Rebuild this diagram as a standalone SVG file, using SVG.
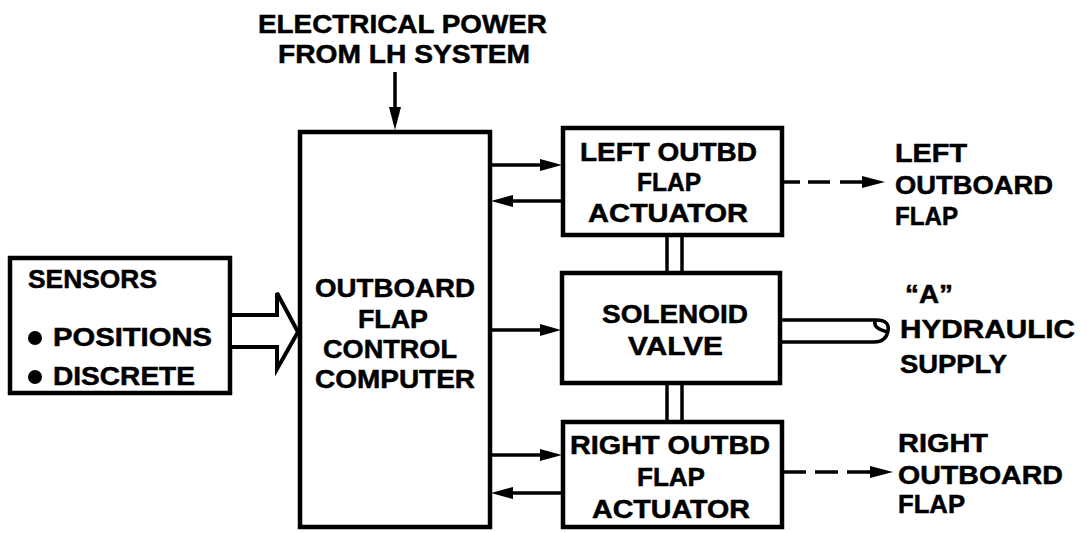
<svg xmlns="http://www.w3.org/2000/svg" width="1087" height="533" viewBox="0 0 1087 533">
<style>
  text { font-family: "Liberation Sans", Arial, sans-serif; font-weight: bold; font-size: 25px; fill: #000; stroke: #000; stroke-width: 0.5; }
  .box { fill: #fff; stroke: #000; stroke-width: 4.5; }
  .ln { stroke: #000; stroke-width: 3.5; fill: none; }
  .head { fill: #000; stroke: none; }
</style>
<rect x="0" y="0" width="1087" height="533" fill="#fff"/>

<g id="power-label">
  <text x="258" y="33" textLength="289" lengthAdjust="spacingAndGlyphs">ELECTRICAL POWER</text>
  <text x="278" y="63" textLength="252" lengthAdjust="spacingAndGlyphs">FROM LH SYSTEM</text>
</g>

<g id="sensors">
  <rect class="box" x="10" y="258" width="220" height="135"/>
  <text x="28" y="288" textLength="129" lengthAdjust="spacingAndGlyphs">SENSORS</text>
  <circle cx="35" cy="338" r="7" fill="#000"/>
  <text x="53" y="346" textLength="159" lengthAdjust="spacingAndGlyphs">POSITIONS</text>
  <circle cx="35" cy="377" r="7" fill="#000"/>
  <text x="53" y="385" textLength="142" lengthAdjust="spacingAndGlyphs">DISCRETE</text>
</g>

<g id="computer">
  <rect class="box" x="300" y="132" width="190" height="395"/>
  <text x="315" y="297" textLength="160" lengthAdjust="spacingAndGlyphs">OUTBOARD</text>
  <text x="358" y="328" textLength="70" lengthAdjust="spacingAndGlyphs">FLAP</text>
  <text x="323" y="358" textLength="134" lengthAdjust="spacingAndGlyphs">CONTROL</text>
  <text x="315" y="388" textLength="160" lengthAdjust="spacingAndGlyphs">COMPUTER</text>
</g>

<g id="left-actuator">
  <rect class="box" x="563" y="128" width="219" height="107"/>
  <text x="580" y="161" textLength="177" lengthAdjust="spacingAndGlyphs">LEFT OUTBD</text>
  <text x="637" y="191" textLength="64" lengthAdjust="spacingAndGlyphs">FLAP</text>
  <text x="588" y="222" textLength="160" lengthAdjust="spacingAndGlyphs">ACTUATOR</text>
</g>

<g id="solenoid-valve">
  <rect class="box" x="562" y="273" width="218" height="110"/>
  <text x="602" y="323" textLength="146" lengthAdjust="spacingAndGlyphs">SOLENOID</text>
  <text x="628" y="355" textLength="95" lengthAdjust="spacingAndGlyphs">VALVE</text>
</g>

<g id="right-actuator">
  <rect class="box" x="563" y="422" width="219" height="105"/>
  <text x="570" y="454" textLength="200" lengthAdjust="spacingAndGlyphs">RIGHT OUTBD</text>
  <text x="637" y="486" textLength="68" lengthAdjust="spacingAndGlyphs">FLAP</text>
  <text x="592" y="518" textLength="158" lengthAdjust="spacingAndGlyphs">ACTUATOR</text>
</g>

<g id="left-flap-label">
  <text x="895" y="162" textLength="72" lengthAdjust="spacingAndGlyphs">LEFT</text>
  <text x="895" y="194" textLength="158" lengthAdjust="spacingAndGlyphs">OUTBOARD</text>
  <text x="895" y="225" textLength="63" lengthAdjust="spacingAndGlyphs">FLAP</text>
</g>

<g id="hydraulic-label">
  <text x="905" y="303" textLength="48" lengthAdjust="spacingAndGlyphs">“A”</text>
  <text x="900" y="338" textLength="175" lengthAdjust="spacingAndGlyphs">HYDRAULIC</text>
  <text x="900" y="373" textLength="107" lengthAdjust="spacingAndGlyphs">SUPPLY</text>
</g>

<g id="right-flap-label">
  <text x="898" y="452" textLength="90" lengthAdjust="spacingAndGlyphs">RIGHT</text>
  <text x="898" y="484" textLength="165" lengthAdjust="spacingAndGlyphs">OUTBOARD</text>
  <text x="898" y="513" textLength="67" lengthAdjust="spacingAndGlyphs">FLAP</text>
</g>

<g id="connectors">
  <!-- power arrow -->
  <line class="ln" x1="395" y1="72" x2="395" y2="110"/>
  <polygon class="head" points="389,107 401,107 395,130"/>

  <!-- hollow sensors arrow -->
  <polygon points="230,315 277,315 277,293 298,332 277,369 277,347 230,347" fill="#fff" stroke="#000" stroke-width="4" stroke-linejoin="miter"/>

  <!-- computer <-> left actuator -->
  <line class="ln" x1="490" y1="165" x2="545" y2="165"/>
  <polygon class="head" points="540,159 540,171 562,165"/>
  <line class="ln" x1="563" y1="201" x2="508" y2="201"/>
  <polygon class="head" points="513,195 513,207 491,201"/>

  <!-- computer -> solenoid -->
  <line class="ln" x1="490" y1="330" x2="545" y2="330"/>
  <polygon class="head" points="540,324 540,336 561,330"/>

  <!-- computer <-> right actuator -->
  <line class="ln" x1="490" y1="455" x2="545" y2="455"/>
  <polygon class="head" points="540,449 540,461 562,455"/>
  <line class="ln" x1="563" y1="493" x2="508" y2="493"/>
  <polygon class="head" points="513,487 513,499 491,493"/>

  <!-- double mechanical links -->
  <line class="ln" x1="667" y1="235" x2="667" y2="273"/>
  <line class="ln" x1="682" y1="235" x2="682" y2="273"/>
  <line class="ln" x1="667" y1="383" x2="667" y2="422"/>
  <line class="ln" x1="682" y1="383" x2="682" y2="422"/>

  <!-- dashed arrow to left outboard flap -->
  <line class="ln" x1="783" y1="182" x2="800" y2="182"/>
  <line class="ln" x1="808" y1="182" x2="830" y2="182"/>
  <line class="ln" x1="840" y1="182" x2="866" y2="182"/>
  <polygon class="head" points="862,176 862,188 885,182"/>

  <!-- dashed arrow to right outboard flap -->
  <line class="ln" x1="783" y1="472" x2="806" y2="472"/>
  <line class="ln" x1="815" y1="472" x2="838" y2="472"/>
  <line class="ln" x1="847" y1="472" x2="874" y2="472"/>
  <polygon class="head" points="870,466 870,478 893,472"/>

  <!-- hydraulic supply pipe -->
  <path class="ln" d="M780,320 H876 Q890,320 888,331 Q886,342 874,342 H780"/>
  <path class="ln" d="M876,320 Q871,328 888,332"/>
</g>
</svg>
